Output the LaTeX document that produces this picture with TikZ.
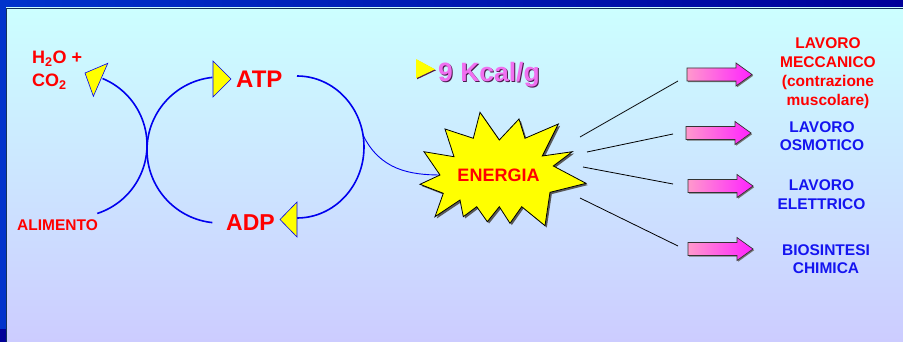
\documentclass[tikz,border=0pt]{standalone}
\usepackage{fontspec}
\setmainfont{Liberation Sans}
\definecolor{frameA}{HTML}{0033CC}
\definecolor{frameB}{HTML}{000099}
\definecolor{bgTop}{HTML}{CCFFFF}
\definecolor{bgBot}{HTML}{CCCCFF}
\definecolor{arcblue}{HTML}{0000EE}
\definecolor{lblred}{HTML}{FF0000}
\definecolor{lblblue}{HTML}{1414F0}
\definecolor{kcal}{HTML}{F070F0}
\definecolor{kcalsh}{HTML}{4D1A4D}
\definecolor{pinkL}{HTML}{FF99CC}
\definecolor{pinkR}{HTML}{FF22FF}
\definecolor{staryel}{HTML}{FFFF00}
\tikzset{
  cyclearc/.style={draw=arcblue, line width=1.6pt},
  thinarc/.style={draw=arcblue, line width=0.9pt},
  tri/.style={fill=staryel, draw=arcblue, line width=0.6pt, line join=miter},
  ray/.style={draw=black, line width=0.8pt},
  bigarrow/.style={left color=pinkL, right color=pinkR, draw=black!80, line width=0.7pt},
  redlbl/.style={text=lblred, font=\bfseries\fontsize{15.5}{19}\selectfont, anchor=base, inner sep=0pt},
  bluelbl/.style={text=lblblue, font=\bfseries\fontsize{15.5}{19}\selectfont, anchor=base, inner sep=0pt},
}
\newcommand{\arrowtri}[5]{%
  \begin{scope}[shift={(#1,#2)}, rotate=#3]
    \path[tri] (0,0) -- (-#4,#5) -- (-#4,-#5) -- cycle;
  \end{scope}}
\begin{document}
\begin{tikzpicture}[x=1pt, y=-1pt]
\useasboundingbox (0,0) rectangle (903,342);
% frame
\fill[frameA] (0,0) rectangle (903,342);
\shade[left color=frameA, right color=frameB] (0,0) rectangle (903,8);
\fill[frameB] (0,329) rectangle (6,342);
\shade[top color=bgTop, bottom color=bgBot] (6,8) rectangle (903,342);
\draw[color={rgb,255:red,20;green,50;blue,90}, line width=0.8pt] (6,342) -- (6,8) -- (903,8);

% cycle arcs
\draw[cyclearc] (75,145) ++(72:72) arc[start angle=72, end angle=-67.5, radius=72];
\draw[cyclearc] (220,150) ++(-96:73) arc[start angle=-96, end angle=-264, radius=73];
\draw[cyclearc] (297,147) ++(0,-71) arc[start angle=-90, end angle=90, x radius=67, y radius=71];
% connector to energia
\coordinate (cstart) at (363,135);
\coordinate (cend) at (441,175);
\draw[thinarc] (cstart) .. controls (380,170) and (410,175) .. (cend);

% arrowheads
\arrowtri{85}{73}{156.4}{17}{18}
\arrowtri{231}{79}{0}{18}{18}
\arrowtri{280}{219.5}{180}{17}{17.5}

% cycle labels
\node[text=lblred, font=\bfseries\fontsize{18}{22}\selectfont, anchor=base west, inner sep=0pt] (h2o) at (32,64) {H\textsubscript{2}O +};
\node[text=lblred, font=\bfseries\fontsize{18}{22}\selectfont, anchor=base west, inner sep=0pt] (co2) at (32,86.5) {CO\textsubscript{2}};
\node[text=lblred, font=\bfseries\fontsize{24}{28}\selectfont, anchor=base west, inner sep=0pt] (atp) at (236,88) {ATP};
\node[text=lblred, font=\bfseries\fontsize{23}{28}\selectfont, anchor=base west, inner sep=0pt] (adp) at (226,230) {ADP};
\node[text=lblred, font=\bfseries\fontsize{15.5}{19}\selectfont, anchor=base west, inner sep=0pt] (alim) at (17,230) {ALIMENTO};

% 9 Kcal/g
\fill[kcalsh] (417,60) -- (436,70.3) -- (417,79.3) -- cycle;
\fill[staryel] (416,59) -- (435,69.3) -- (416,78.3) -- cycle;
\node[text=kcalsh, font=\bfseries\fontsize{26.5}{30}\selectfont, anchor=base west, inner sep=0pt] (kcalsh) at (439,83) {9 Kcal/g};
\node[text=kcal, font=\bfseries\fontsize{26.5}{30}\selectfont, anchor=base west, inner sep=0pt] (kcal) at (438,82) {9 Kcal/g};

% star
\def\starpath{(480,112.3) -- (499.3,140) -- (519,119) -- (525,138.3) -- (558.3,124) -- (542.3,156) -- (572.3,151.7) -- (553.3,166) -- (586,183.3) -- (550,192.3) -- (545,225.7) -- (521.7,206.7) -- (510,223.3) -- (499.3,206.7) -- (487.3,221.7) -- (476.7,206.7) -- (463.3,216.7) -- (460,200) -- (435,216.7) -- (443.3,193.3) -- (420,184.3) -- (440,175) -- (424,151.7) -- (454,156.7) -- (445,129) -- (473.3,138.3) -- cycle}
\fill[black!65, shift={(1.8,1.8)}] \starpath;
\filldraw[fill=staryel, draw=black, line width=0.8pt, line join=miter] \starpath;
\node[text=lblred, font=\bfseries\fontsize{18}{22}\selectfont, anchor=base, inner sep=0pt] (energia) at (498.5,182) {ENERGIA};

% rays
\coordinate (r1a) at (580,137); \coordinate (r1b) at (678,81);
\coordinate (r2a) at (587,152); \coordinate (r2b) at (673,134);
\coordinate (r3a) at (583,167); \coordinate (r3b) at (673,184);
\coordinate (r4a) at (580,198); \coordinate (r4b) at (678,246);
\draw[ray] (r1a) -- (r1b);
\draw[ray] (r2a) -- (r2b);
\draw[ray] (r3a) -- (r3b);
\draw[ray] (r4a) -- (r4b);

% pink arrows
\foreach \xa/\xh/\xt/\yc in {687/736/752/74.5, 686/735/751/133, 688/737/753/186, 688/737/753/249}{
  \fill[black!55] (\xa+1.2,\yc-6.5+1.2) -- (\xh+1.2,\yc-6.5+1.2) -- (\xh+1.2,\yc-11.5+1.2) -- (\xt+1.2,\yc+1.2) -- (\xh+1.2,\yc+11.5+1.2) -- (\xh+1.2,\yc+6.5+1.2) -- (\xa+1.2,\yc+6.5+1.2) -- cycle;
  \shadedraw[bigarrow] (\xa,\yc-6.5) -- (\xh,\yc-6.5) -- (\xh,\yc-11.5) -- (\xt,\yc) -- (\xh,\yc+11.5) -- (\xh,\yc+6.5) -- (\xa,\yc+6.5) -- cycle;
}

% right labels
\node[redlbl] (m1) at (828,48.3) {LAVORO};
\node[redlbl] (m2) at (828,67.3) {MECCANICO};
\node[redlbl] (m3) at (828,86.3) {(contrazione};
\node[redlbl] (m4) at (828,105.3) {muscolare)};
\node[bluelbl] (o1) at (822,132.3) {LAVORO};
\node[bluelbl] (o2) at (822,151) {OSMOTICO};
\node[bluelbl] (e1) at (821.5,190.7) {LAVORO};
\node[bluelbl] (e2) at (821.5,209.3) {ELETTRICO};
\node[bluelbl] (b1) at (826,255) {BIOSINTESI};
\node[bluelbl] (b2) at (826,273.3) {CHIMICA};
\end{tikzpicture}
\end{document}
